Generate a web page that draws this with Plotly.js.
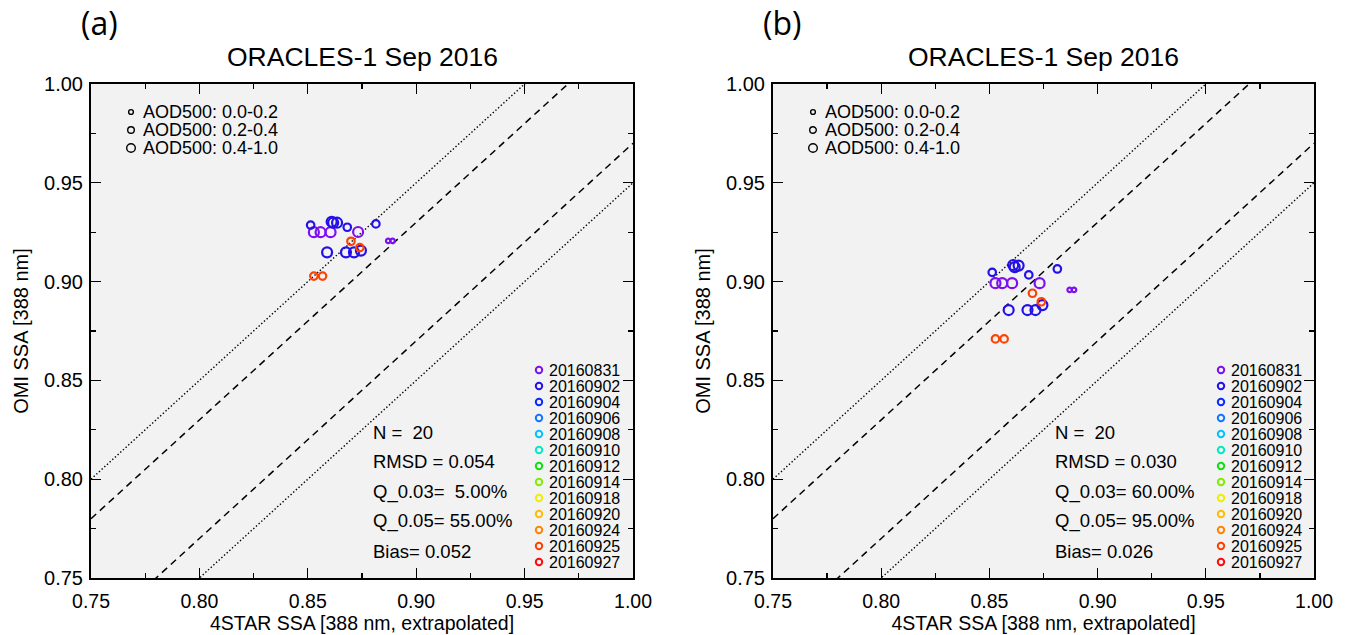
<!DOCTYPE html>
<html>
<head>
<meta charset="utf-8">
<script src="https://cdn.plot.ly/plotly-3.0.1.min.js"></script>
<style>html,body{margin:0;padding:0;background:#fff;}#chart{width:1348px;height:635px;}</style>
</head>
<body>
<div id="chart"></div>
<script>
// ---------------- DATA ----------------
const panelLabels = ['(a)', '(b)'];
const panelTitle = 'ORACLES-1 Sep 2016';
const xTitle = '4STAR SSA [388 nm, extrapolated]';
const yTitle = 'OMI SSA [388 nm]';
const tickVals = [0.75, 0.80, 0.85, 0.90, 0.95, 1.00];

// 4STAR SSA (same in both panels)
const ssa4star = [0.8513, 0.8528, 0.8559, 0.8605, 0.8610, 0.8617, 0.8635, 0.8682, 0.8732, 0.8814,
                  0.8871, 0.8891, 0.8699, 0.8740, 0.8589, 0.8676, 0.8713, 0.8745, 0.8528, 0.8568];
// OMI SSA panel (a)
const omiSsaA = [0.9286, 0.9250, 0.9250, 0.9250, 0.9303, 0.9298, 0.9298, 0.9275, 0.9251, 0.9292,
                 0.9206, 0.9206, 0.9204, 0.9172, 0.9148, 0.9148, 0.9148, 0.9157, 0.9028, 0.9028];
// OMI SSA panel (b)
const omiSsaB = [0.9047, 0.8992, 0.8992, 0.8992, 0.9084, 0.9073, 0.9081, 0.9034, 0.8992, 0.9064,
                 0.8958, 0.8958, 0.8941, 0.8898, 0.8856, 0.8856, 0.8856, 0.8881, 0.8710, 0.8710];
// flight date of each point
const pointDate = ['20160902', '20160831', '20160831', '20160831', '20160902', '20160902', '20160902', '20160902', '20160831', '20160902',
                   '20160831', '20160831', '20160925', '20160925', '20160902', '20160902', '20160902', '20160902', '20160925', '20160925'];
// AOD500 bin of each point (0: 0.0-0.2, 1: 0.2-0.4, 2: 0.4-1.0)
const aodBin = [1, 2, 2, 2, 2, 2, 2, 1, 2, 1, 0, 0, 1, 1, 2, 2, 2, 2, 1, 1];

const aodLabels = ['AOD500: 0.0-0.2', 'AOD500: 0.2-0.4', 'AOD500: 0.4-1.0'];
const dates = ['20160831', '20160902', '20160904', '20160906', '20160908', '20160910', '20160912',
               '20160914', '20160918', '20160920', '20160924', '20160925', '20160927'];
const dateColors = ['#7d10f0', '#2410e8', '#0a28ff', '#1476ff', '#00c4ff', '#00ecc0', '#10e010',
                    '#80ec00', '#eeee00', '#ffbc00', '#ff8400', '#ff4200', '#ff0a0a'];

// statistics
const statN = [20, 20];
const statRMSD = ['0.054', '0.030'];
const statQ003 = [' 5.00%', '60.00%'];
const statQ005 = ['55.00%', '95.00%'];
const statBias = ['0.052', '0.026'];

// envelope lines: y = x + offset
const dashedOffsets = [0.03, -0.03];
const dottedOffsets = [0.05, -0.05];
const axisRange = [0.75, 1.00];

// ---------------- LAYOUT GEOMETRY ----------------
const W = 1348, H = 635;
const PX0 = [91, 773], PX1 = [633, 1314];
const PTOP = 84, PBOT = 578;
const px = v => v / W;
const py = v => 1 - v / H;
const FONT = 'Liberation Sans, Arial, Helvetica, sans-serif';
const markerSize = [4.5, 7.5, 10];
const aodLegendR = [2.4, 3.3, 4.3];

const traces = [];
const omiPanels = [omiSsaA, omiSsaB];
for (let p = 0; p < 2; p++) {
  const xa = p === 0 ? 'x' : 'x2', ya = p === 0 ? 'y' : 'y2';
  // envelope lines
  dashedOffsets.forEach(o => traces.push({
    x: axisRange, y: axisRange.map(v => v + o), xaxis: xa, yaxis: ya, mode: 'lines',
    line: {color: '#000', width: 1.5, dash: '7px,5px'}, hoverinfo: 'skip', showlegend: false
  }));
  dottedOffsets.forEach(o => traces.push({
    x: axisRange, y: axisRange.map(v => v + o), xaxis: xa, yaxis: ya, mode: 'lines',
    line: {color: '#000', width: 1.4, dash: '1.4px,2.2px'}, hoverinfo: 'skip', showlegend: false
  }));
  // data points grouped by date
  dates.forEach((d, di) => {
    const idx = pointDate.map((pd, i) => pd === d ? i : -1).filter(i => i >= 0);
    if (!idx.length) return;
    traces.push({
      x: idx.map(i => ssa4star[i]), y: idx.map(i => omiPanels[p][i]),
      xaxis: xa, yaxis: ya, mode: 'markers', name: d, showlegend: false,
      marker: {symbol: 'circle-open', color: dateColors[di], opacity: 1, size: idx.map(i => markerSize[aodBin[i]]),
               line: {width: 2.2, color: dateColors[di]}}
    });
  });
}

function axisCommon(extra) {
  return Object.assign({
    range: axisRange, tickvals: tickVals, tickformat: '.2f', ticks: 'inside', ticklen: 10, tickwidth: 1.3,
    tickcolor: '#000', showline: true, linewidth: 2, linecolor: '#000', mirror: 'ticks',
    showgrid: false, zeroline: false, tickfont: {family: FONT, size: 20, color: '#000'},
    minor: {tickvals: [0.775, 0.825, 0.875, 0.925, 0.975], ticks: 'inside', ticklen: 5, tickwidth: 1.3, tickcolor: '#000', showgrid: false}
  }, extra);
}

const xTick = {family: FONT, size: 19.5, color: '#000'};
const layout = {
  width: W, height: H, margin: {l: 0, r: 0, t: 0, b: 0},
  paper_bgcolor: '#fff', plot_bgcolor: '#f2f2f2', showlegend: false,
  font: {family: FONT, color: '#000'},
  xaxis: axisCommon({domain: [px(PX0[0]), px(PX1[0])], anchor: 'y', ticklabelstandoff: 5, tickfont: xTick,
                     title: {text: xTitle, font: {family: FONT, size: 19.5}, standoff: 0}}),
  yaxis: axisCommon({domain: [py(PBOT), py(PTOP)], anchor: 'x', ticklabelstandoff: 2,
                     title: {text: yTitle, font: {family: FONT, size: 20}, standoff: 10}}),
  xaxis2: axisCommon({domain: [px(PX0[1]), px(PX1[1])], anchor: 'y2', ticklabelstandoff: 5, tickfont: xTick,
                      title: {text: xTitle, font: {family: FONT, size: 19.5}, standoff: 0}}),
  yaxis2: axisCommon({domain: [py(PBOT), py(PTOP)], anchor: 'x2', ticklabelstandoff: 2,
                      title: {text: yTitle, font: {family: FONT, size: 20}, standoff: 10}}),
  annotations: [], shapes: []
};

const nb = s => s.replace(/ /g, '\u00a0');
for (let p = 0; p < 2; p++) {
  const off = PX0[p] - PX0[0];
  // panel tag and title
  layout.annotations.push({text: panelLabels[p], xref: 'paper', yref: 'paper', x: px(79 + off), y: py(22),
    xanchor: 'left', yanchor: 'middle', showarrow: false, font: {family: 'Open Sans, Noto Sans, sans-serif', size: 32}});
  layout.annotations.push({text: panelTitle, xref: 'paper', yref: 'paper', x: px((PX0[p] + PX1[p]) / 2), y: py(57),
    xanchor: 'center', yanchor: 'middle', showarrow: false, font: {family: FONT, size: 26.5}});
  // AOD size legend
  aodLabels.forEach((t, i) => {
    const cy = 112 + i * 18;
    layout.shapes.push({type: 'circle', xref: 'paper', yref: 'paper', xsizemode: 'pixel', ysizemode: 'pixel',
      xanchor: px(131 + off), yanchor: py(cy), x0: -aodLegendR[i], x1: aodLegendR[i], y0: -aodLegendR[i], y1: aodLegendR[i],
      line: {color: '#000', width: 1.4}});
    layout.annotations.push({text: t, xref: 'paper', yref: 'paper', x: px(141 + off), y: py(cy),
      xanchor: 'left', yanchor: 'middle', showarrow: false, font: {family: FONT, size: 18}});
  });
  // statistics text
  const stats = ['N =  ' + statN[p], 'RMSD = ' + statRMSD[p], 'Q_0.03= ' + statQ003[p], 'Q_0.05= ' + statQ005[p], 'Bias= ' + statBias[p]];
  stats.forEach((t, i) => {
    layout.annotations.push({text: nb(t), xref: 'paper', yref: 'paper', x: px(371 + off), y: py(432 + i * 29.8),
      xanchor: 'left', yanchor: 'middle', showarrow: false, font: {family: FONT, size: 18.5}});
  });
  // date colour legend
  dates.forEach((d, i) => {
    const cy = 370 + i * 16.0;
    layout.shapes.push({type: 'circle', xref: 'paper', yref: 'paper', xsizemode: 'pixel', ysizemode: 'pixel',
      xanchor: px(539 + off), yanchor: py(cy), x0: -3.2, x1: 3.2, y0: -3.2, y1: 3.2,
      line: {color: dateColors[i], width: 2}});
    layout.annotations.push({text: d, xref: 'paper', yref: 'paper', x: px(547 + off), y: py(cy),
      xanchor: 'left', yanchor: 'middle', showarrow: false, font: {family: FONT, size: 16}});
  });
}

Plotly.newPlot('chart', traces, layout, {staticPlot: true, displayModeBar: false});
</script>
</body>
</html>
